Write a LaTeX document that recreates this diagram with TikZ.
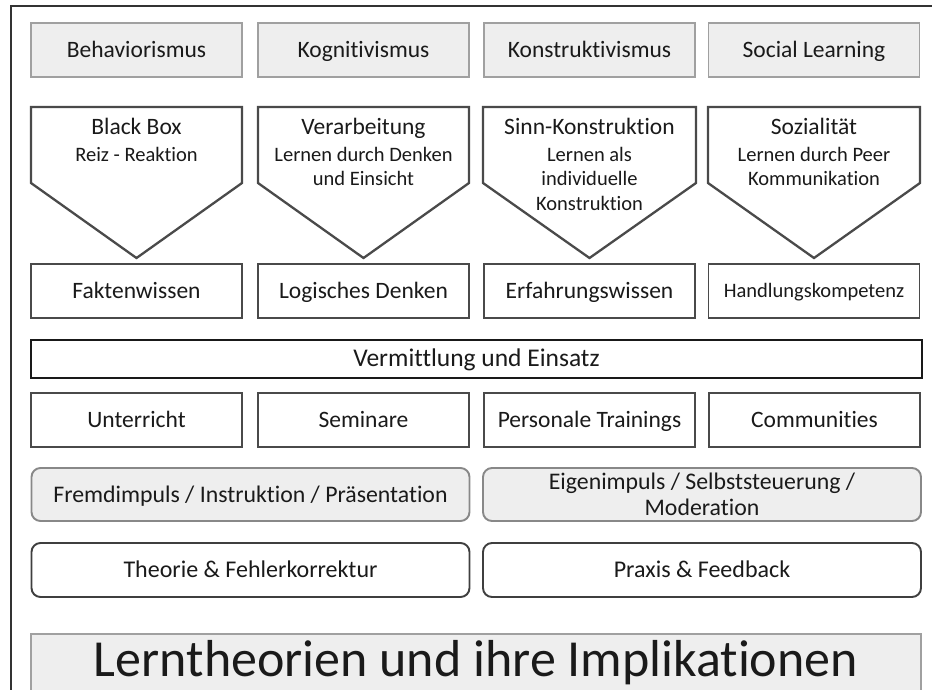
\documentclass[tikz,border=0pt]{standalone}
\usepackage{fontspec}
\setmainfont{Carlito}[Ligatures=NoCommon]
\definecolor{boxgray}{HTML}{EEEEEE}
\definecolor{lightedge}{HTML}{A0A0A0}
\definecolor{midedge}{HTML}{888888}
\definecolor{darkedge}{HTML}{4A4A4A}
\definecolor{inkcol}{HTML}{1A1A1A}
\begin{document}
\begin{tikzpicture}[x=1pt,y=-1pt,
  every node/.style={inner sep=0pt, text=inkcol},
  oneline/.style={text height=17pt, text depth=2pt},
  theorybox/.style={oneline, draw=lightedge, fill=boxgray, line width=1.9pt, minimum width=211pt, minimum height=54pt, font=\fontsize{23.5}{28}\selectfont},
  pentaline/.style={draw=darkedge, fill=white, line width=2.3pt, line join=miter},
  pentatitle/.style={oneline, font=\fontsize{23.5}{28}\selectfont},
  pentasub/.style={font=\fontsize{20.5}{24.3}\selectfont, align=center, anchor=north},
  resultbox/.style={oneline, draw=darkedge, fill=white, line width=1.9pt, minimum width=211pt, minimum height=54pt, font=\fontsize{23.5}{28}\selectfont},
  barbox/.style={oneline, draw=black!90, fill=white, line width=2.7pt, minimum width=891pt, minimum height=38pt, font=\fontsize{25.5}{28}\selectfont},
  impulsbox/.style={draw=midedge, fill=boxgray, line width=1.9pt, rounded corners=9pt, minimum width=438pt, minimum height=53pt, align=center, font=\fontsize{23.8}{26.5}\selectfont},
  methodbox/.style={oneline, draw=darkedge!85!black, fill=white, line width=1.9pt, rounded corners=9pt, minimum width=438pt, minimum height=54pt, font=\fontsize{24}{26}\selectfont},
  titlebox/.style={draw=lightedge, fill=boxgray, line width=1.5pt, minimum width=890pt, minimum height=90pt},
]
\useasboundingbox (0,0) rectangle (932,689);
\clip (0,0) rectangle (932,689);
\fill[white] (0,0) rectangle (932,689);
% outer frame
\draw[black!80, line width=1.3pt] (11,695) -- (11,6) -- (940,6);

% row 1: theories
\node[theorybox] (beh) at (136.5,50) {Behaviorismus};
\node[theorybox] (kog) at (363.5,50) {Kognitivismus};
\node[theorybox] (kon) at (589.5,50) {Konstruktivismus};
\node[theorybox] (soc) at (814,50) {Social Learning};

% row 2: pentagons
\foreach \l/\r in {31/242, 258/469, 483/696, 708/920}{
  \draw[pentaline] (\l,107) -- (\r,107) -- (\r,183) -- ({(\l+\r)/2},258) -- (\l,183) -- cycle;
}
\node[pentatitle] (bbt) at (136.5,126.5) {Black Box};
\node[pentasub] (bbs) at (136.5,147) {Reiz - Reaktion};
\node[pentatitle] (vat) at (363.5,126.5) {Verarbeitung};
\node[pentasub] (vas) at (363.5,147) {Lernen durch Denken\\und Einsicht};
\node[pentatitle] (skt) at (589.5,126.5) {Sinn-Konstruktion};
\node[pentasub] (sks) at (589.5,147) {Lernen als\\individuelle\\Konstruktion};
\node[pentatitle] (sot) at (814,126.5) {Sozialität};
\node[pentasub] (sos) at (814,147) {Lernen durch Peer\\Kommunikation};

% row 3: results
\node[resultbox] (fak) at (136.5,291) {Faktenwissen};
\node[resultbox] (log) at (363.5,291) {Logisches Denken};
\node[resultbox] (erf) at (589.5,291) {Erfahrungswissen};
\node[resultbox, font=\fontsize{20.5}{24}\selectfont, text height=15pt, text depth=2pt] (han) at (814,291) {Handlungskompetenz};

% row 4: bar
\node[barbox] (ver) at (476.5,359) {Vermittlung und Einsatz};

% row 5: formats
\node[resultbox] (unt) at (136.5,420) {Unterricht};
\node[resultbox] (sem) at (363.5,420) {Seminare};
\node[resultbox] (per) at (589.5,420) {Personale Trainings};
\node[resultbox] (com) at (814.5,420) {Communities};

% row 6: impulses
\node[impulsbox, oneline] (fre) at (250.5,494.5) {Fremdimpuls / Instruktion / Präsentation};
\node[impulsbox] (eig) at (702,494.5) {Eigenimpuls / Selbststeuerung /\\Moderation};

% row 7: methods
\node[methodbox] (the) at (250.5,570) {Theorie \& Fehlerkorrektur};
\node[methodbox] (pra) at (702,570) {Praxis \& Feedback};

% title
\node[titlebox] (tit) at (476,679) {};
\node[font=\fontsize{52}{60}\selectfont, anchor=base] (titt) at (476,676.5) {Lerntheorien und ihre Implikationen};
\end{tikzpicture}
\end{document}
